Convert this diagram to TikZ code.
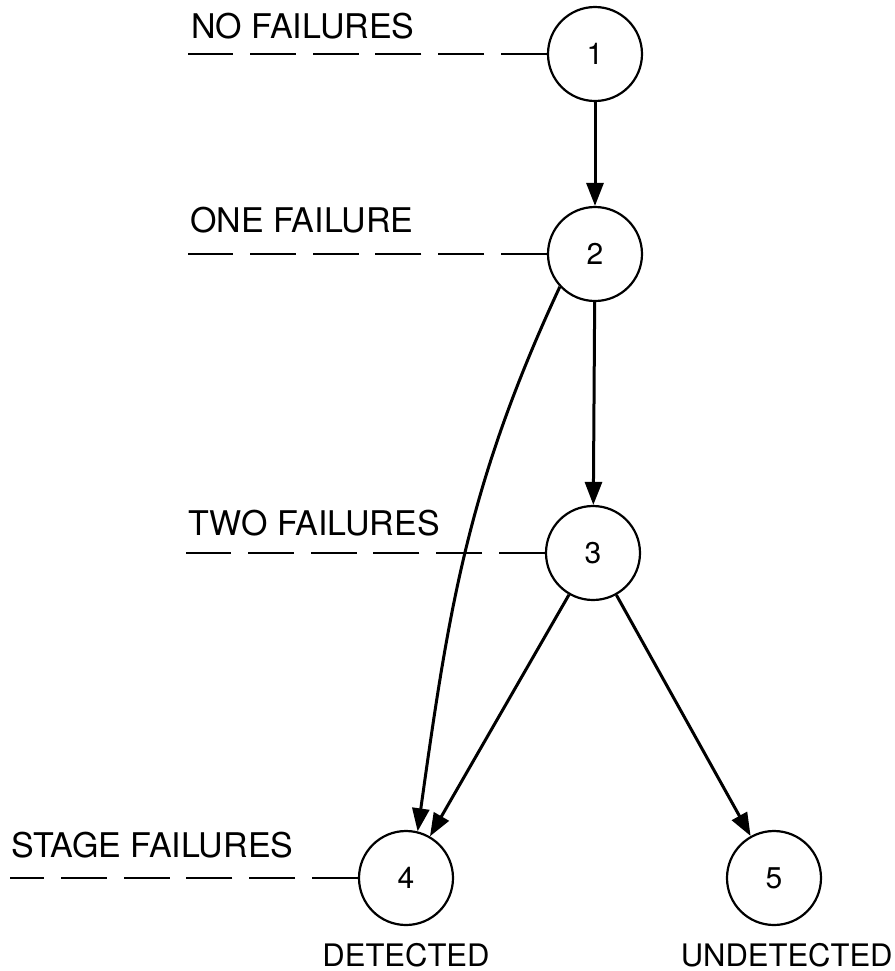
\documentclass[tikz,border=0pt]{standalone}
\usepackage{fontspec}
\setmainfont{TeX Gyre Heros}
\usetikzlibrary{arrows.meta}
\begin{document}
\begin{tikzpicture}[x=0.5pt, y=-0.5pt,
    state/.style={draw, circle, line width=1.1pt, minimum size=47pt, inner sep=0pt, font=\fontsize{15}{17}\selectfont},
    lbl/.style={font=\fontsize{17}{19}\selectfont, inner sep=0pt},
    outcome/.style={font=\fontsize{15.5}{18}\selectfont, inner sep=0pt},
    level/.style={line width=1.2pt, dash pattern=on 23pt off 8.4pt},
    edge/.style={line width=1.5pt, -{Triangle[length=11.5pt, width=8.5pt]}}]
    \useasboundingbox (0,0) rectangle (895,971);
    % states
    \node[state] (n1) at (595,54) {1};
    \node[state] (n2) at (595,254) {2};
    \node[state] (n3) at (593,553) {3};
    \node[state] (n4) at (406,878) {4};
    \node[state] (n5) at (774,878) {5};
    % level labels
    \node[lbl, anchor=base west] (l1) at (191,38) {NO FAILURES};
    \node[lbl, anchor=base west] (l2) at (190,232) {ONE FAILURE};
    \node[lbl, anchor=base west] (l3) at (188,535) {TWO FAILURES};
    \node[lbl, anchor=base west] (l4) at (11,857) {STAGE FAILURES};
    \coordinate (d1) at (188,54);
    \coordinate (d2) at (188,254);
    \coordinate (d3) at (186,553);
    \coordinate (d4) at (10,878);
    \draw[level] (n1.west) -- (d1);
    \draw[level] (n2.west) -- (d2);
    \draw[level] (n3.west) -- (d3);
    \draw[level] (n4.west) -- (d4);
    % transitions
    \draw[edge] (n1) -- (n2);
    \draw[edge] (n2) -- (n3);
    \draw[edge] (n2.223) to[out=245, in=82] (n4.76);
    \draw[edge] (n3) -- (n4);
    \draw[edge] (n3) -- (n5);
    % outcomes
    \node[outcome, anchor=base] (o4) at (406,966) {DETECTED};
    \node[outcome, anchor=base east] (o5) at (893,966) {UNDETECTED};
\end{tikzpicture}
\end{document}
